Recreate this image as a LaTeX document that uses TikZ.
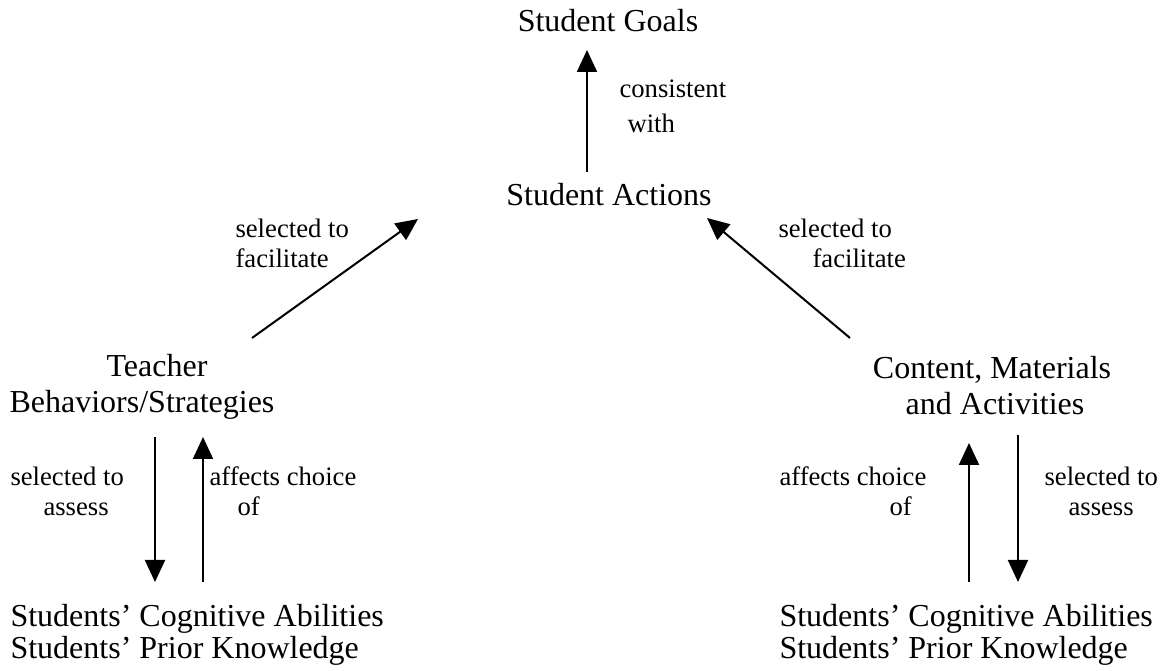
\documentclass[tikz,border=0pt]{standalone}
\usepackage{fontspec}
\setmainfont{Liberation Serif}
\usetikzlibrary{arrows.meta}
\begin{document}
\begin{tikzpicture}[x=0.375pt,y=-0.375pt,
  main/.style={font=\fontsize{12pt}{14pt}\selectfont, inner sep=0pt},
  lbl/.style={font=\fontsize{10pt}{12pt}\selectfont, inner sep=0pt},
  conn/.style={line width=0.75pt, -{Triangle[width=7.5pt,length=8.25pt]}}]
\useasboundingbox (0,0) rectangle (1166,671);

% main nodes
\node[main, anchor=base] (goals) at (608,32) {Student Goals};
\node[main, anchor=base] (actions) at (609,206) {Student Actions};
\node[main, anchor=base] (teacherA) at (157,377) {Teacher};
\node[main, anchor=base] (teacherB) at (142,413) {Behaviors/Strategies};
\node[main, anchor=base] (contentA) at (992,379) {Content, Materials};
\node[main, anchor=base] (contentB) at (995,415) {and Activities};
\node[main, anchor=base west] (leftA) at (10,627) {Students' Cognitive Abilities};
\node[main, anchor=base west] (leftB) at (10,659) {Students' Prior Knowledge};
\node[main, anchor=base west] (rightA) at (779,627) {Students' Cognitive Abilities};
\node[main, anchor=base west] (rightB) at (779,659) {Students' Prior Knowledge};

% labels
\node[lbl, anchor=base west] (consA) at (619,98) {consistent};
\node[lbl, anchor=base west] (consB) at (627,133) {with};
\node[lbl, anchor=base west] (lfacA) at (235,238) {selected to};
\node[lbl, anchor=base west] (lfacB) at (235,268) {facilitate};
\node[lbl, anchor=base west] (rfacA) at (778,238) {selected to};
\node[lbl, anchor=base west] (rfacB) at (812,268) {facilitate};
\node[lbl, anchor=base west] (lassA) at (10,486) {selected to};
\node[lbl, anchor=base west] (lassB) at (43,516) {assess};
\node[lbl, anchor=base west] (laffA) at (209,486) {affects choice};
\node[lbl, anchor=base west] (laffB) at (237,516) {of};
\node[lbl, anchor=base west] (raffA) at (779,486) {affects choice};
\node[lbl, anchor=base west] (raffB) at (889,516) {of};
\node[lbl, anchor=base west] (rassA) at (1044,486) {selected to};
\node[lbl, anchor=base west] (rassB) at (1068,516) {assess};

% connector end points
\coordinate (a1s) at (587,172);  \coordinate (a1e) at (587,50);
\coordinate (a2s) at (252,338);  \coordinate (a2e) at (418,219);
\coordinate (a3s) at (850,338);  \coordinate (a3e) at (707,218);
\coordinate (a4s) at (155,437);  \coordinate (a4e) at (155,582);
\coordinate (a5s) at (203,582);  \coordinate (a5e) at (203,437);
\coordinate (a6s) at (969,582);  \coordinate (a6e) at (969,443);
\coordinate (a7s) at (1018,435); \coordinate (a7e) at (1018,582);

\draw[conn] (a1s) -- (a1e);
\draw[conn] (a2s) -- (a2e);
\draw[conn] (a3s) -- (a3e);
\draw[conn] (a4s) -- (a4e);
\draw[conn] (a5s) -- (a5e);
\draw[conn] (a6s) -- (a6e);
\draw[conn] (a7s) -- (a7e);
\end{tikzpicture}
\end{document}
